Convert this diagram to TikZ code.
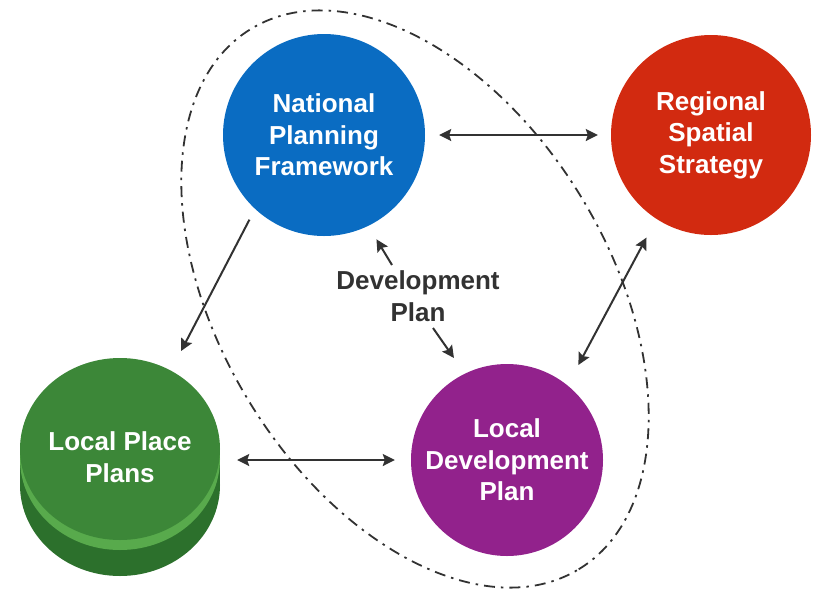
\documentclass[tikz,border=0pt]{standalone}
\usepackage{fontspec}
\setmainfont{Liberation Sans}
\usetikzlibrary{arrows.meta,shapes.geometric}
\definecolor{nblue}{RGB}{10,108,194}
\definecolor{nred}{RGB}{210,42,16}
\definecolor{npurple}{RGB}{146,34,140}
\definecolor{gface}{RGB}{60,135,56}
\definecolor{grim}{RGB}{88,170,76}
\definecolor{gside}{RGB}{44,112,44}
\definecolor{ink}{RGB}{50,50,50}
\begin{document}
\begin{tikzpicture}[x=1pt,y=1pt,
  bubble/.style={circle, minimum size=#1, inner sep=0pt, text=white,
    font=\bfseries\fontsize{26}{31.5}\selectfont, align=center},
  lbl/.style={inner sep=0pt, align=center, font=\bfseries\fontsize{26}{31.5}\selectfont},
  onearr/.style={draw=ink, line width=2pt, -{Stealth[length=12pt,width=12pt,inset=2pt]}},
  twoarr/.style={draw=ink, line width=2pt, {Stealth[length=12pt,width=12pt,inset=2pt]}-{Stealth[length=12pt,width=12pt,inset=2pt]}},
  dashring/.style={draw=ink, line width=1.8pt, dash pattern=on 11pt off 6pt on 2.5pt off 6pt}]
\useasboundingbox (0,0) rectangle (814,-590);

% enclosing dash-dot ellipse
\draw[dashring, rotate around={-58.8:(415,-299)}] (415,-299) ellipse [x radius=316, y radius=195];

% green cylinder (Local Place Plans)
\fill[gside] (20,-449) rectangle (220,-485);
\fill[gside] (120,-485) ellipse [x radius=100, y radius=91];
\fill[grim] (120,-459) ellipse [x radius=100, y radius=91];
\node[ellipse, fill=gface, minimum width=200, minimum height=182, inner sep=0pt] (green) at (120,-449) {};
\node[lbl, text=white] (greentext) at (120,-457) {Local Place\\Plans};

% circles
\node[bubble=202, fill=nblue] (blue) at (324,-135) {National\\Planning\\Framework};
\node[bubble=200, fill=nred] (red) at (711,-135) {Regional\\Spatial\\Strategy};
\node[bubble=192, fill=npurple] (purple) at (507,-460) {Local\\Development\\Plan};

% label
\node[lbl, text=ink] (dev) at (418,-296) {Development\\Plan};
\coordinate (d1) at (392,-265);
\coordinate (d2) at (433,-328);

% connectors
\draw[twoarr, shorten <=14pt, shorten >=13pt] (blue.east) -- (red.west);
\draw[onearr, shorten <=12pt, shorten >=22pt] (blue.227.2) -- (green.57);
\draw[twoarr, shorten <=17pt, shorten >=16pt] (green.east |- purple.west) -- (purple.west);
\draw[twoarr, shorten <=21pt, shorten >=23pt] (red.237.1) -- (purple.51.5);
\draw[onearr, shorten >=15.6pt] (d1) -- (blue.-64.1);
\draw[onearr, shorten >=19pt] (d2) -- (purple.116.8);
\end{tikzpicture}
\end{document}
